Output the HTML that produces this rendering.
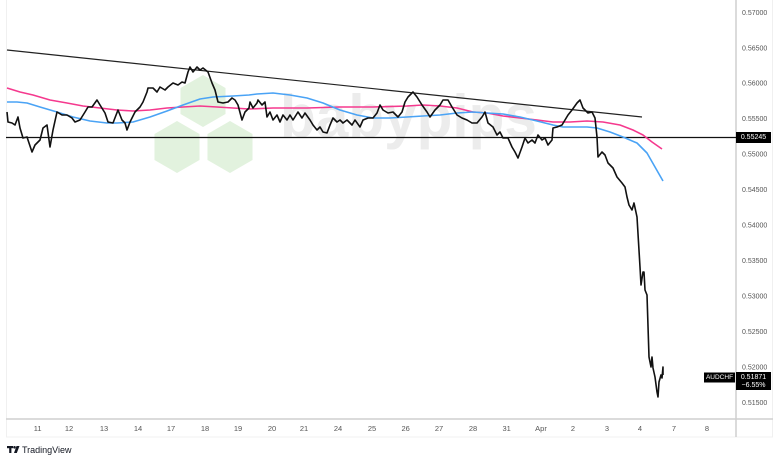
<!DOCTYPE html>
<html><head><meta charset="utf-8"><style>
html,body{margin:0;padding:0;background:#fff;}
svg{display:block;}
text{font-family:"Liberation Sans",sans-serif;}
</style></head><body>
<svg width="780" height="462" viewBox="0 0 780 462" xmlns="http://www.w3.org/2000/svg">
<rect x="0" y="0" width="780" height="462" fill="#fff"/>
<!-- frame -->
<rect x="6.5" y="-1" width="766" height="438" fill="none" stroke="#f0f0f0" stroke-width="1"/>
<!-- watermark -->
<g fill="#e2f2de">
<polygon points="203,75 225.5,88 225.5,114 203,127 180.5,114 180.5,88"/>
<polygon points="177,121 199.5,134 199.5,160 177,173 154.5,160 154.5,134"/>
<polygon points="230,121 252.5,134 252.5,160 230,173 207.5,160 207.5,134"/>
</g>
<text x="280" y="137" font-size="60" font-weight="bold" fill="#ececec" textLength="257" lengthAdjust="spacingAndGlyphs">babypips</text>
<!-- axes separators -->
<line x1="6" y1="419" x2="773" y2="419" stroke="#cfcfcf" stroke-width="1.5"/>
<line x1="736" y1="0" x2="736" y2="437" stroke="#cfcfcf" stroke-width="1.5"/>
<!-- horizontal level -->
<line x1="6" y1="137.5" x2="736" y2="137.5" stroke="#111" stroke-width="1.2"/>
<!-- trendline -->
<line x1="7" y1="50" x2="642" y2="117" stroke="#222" stroke-width="1.2"/>
<!-- pink MA -->
<polyline fill="none" stroke="#f5398e" stroke-width="1.6" stroke-linejoin="round" points="7,88 20,92 33,95 50,100 67,103 83,106 100,108 117,110 133,111 150,110 167,108 183,107 200,106 217,107 233,108 249,109 273,108 307,108 340,107 373,107 407,106 423,105 440,106 457,108 473,112 487,113 503,116 520,118 537,120 553,122 570,122 587,121 603,122 620,125 633,130 643,135 652,142 662,149"/>
<!-- blue MA -->
<polyline fill="none" stroke="#4aa3f5" stroke-width="1.6" stroke-linejoin="round" points="7,102 17,102 27,103 40,107 57,112 73,117 90,121 107,123 117,123 133,122 150,117 167,111 183,105 200,99 213,97 233,96 249,95 257,94 273,93 290,95 307,98 323,103 340,110 357,115 373,118 390,118 407,117 423,116 440,115 457,113 473,112 487,113 503,114 520,117 537,121 553,125 563,127 570,127 587,127 597,128 610,132 623,137 637,143 647,153 655,167 663,181"/>
<!-- price -->
<polyline fill="none" stroke="#111" stroke-width="1.6" stroke-linejoin="round" points="7,112 8,122 12,123 15,125 18,117 20,128 23,138 27,137 32,152 35,145 40,140 43,128 47,125 50,147 53,130 57,112 62,115 67,115 72,118 75,122 80,120 85,112 88,107 92,107 97,100 100,105 105,113 108,122 113,123 118,110 122,120 125,123 127,130 130,122 135,112 140,107 143,102 147,92 148,88 153,88 157,92 160,87 165,90 168,87 173,83 178,85 182,82 185,83 188,72 190,67 193,72 197,67 200,70 203,68 208,72 212,83 215,90 218,102 223,103 228,102 232,98 235,100 238,105 242,120 245,112 249,108 250,102 253,108 257,103 258,100 262,105 265,102 267,117 270,112 273,120 277,115 280,122 283,115 287,120 290,115 293,120 298,112 302,118 305,113 310,120 313,125 317,130 320,127 323,132 327,133 330,125 333,118 337,122 340,120 343,123 347,120 352,125 355,120 360,127 363,120 368,118 373,118 377,113 380,105 383,110 388,113 393,112 398,117 402,112 405,102 408,97 413,92 417,97 422,105 427,112 430,117 435,110 440,105 443,100 448,100 452,107 457,115 462,118 467,120 472,123 477,123 482,117 485,112 488,123 493,127 497,135 500,132 503,138 508,138 512,147 515,152 518,158 522,147 525,138 528,143 532,140 535,143 538,135 542,140 545,138 548,145 552,140 553,128 557,127 562,125 565,120 568,115 572,110 577,103 580,100 583,108 588,113 592,112 595,118 597,137 598,157 602,152 605,155 608,163 613,168 617,177 622,183 625,187 627,197 629,205 632,210 634,203 637,217 640,267 641,285 643,272 644,272 645,290 647,295 649,357 651,367 652,357 653,368 655,377 657,392 658,397 659,382 661,375 662,378 663,367 663,375"/>
<!-- right axis labels -->
<g font-size="7" fill="#555" dominant-baseline="central">
<text x="742" y="13.3">0.57000</text>
<text x="742" y="48.8">0.56500</text>
<text x="742" y="84.2">0.56000</text>
<text x="742" y="119.7">0.55500</text>
<text x="742" y="155.1">0.55000</text>
<text x="742" y="190.6">0.54500</text>
<text x="742" y="226">0.54000</text>
<text x="742" y="261.5">0.53500</text>
<text x="742" y="296.9">0.53000</text>
<text x="742" y="332.4">0.52500</text>
<text x="742" y="367.8">0.52000</text>
<text x="742" y="403.3">0.51500</text>
</g>
<!-- level label -->
<rect x="736" y="132" width="35" height="11" fill="#000"/>
<text x="753.5" y="137.7" font-size="7" fill="#fff" text-anchor="middle" dominant-baseline="central">0.55245</text>
<!-- symbol labels -->
<rect x="704" y="372.5" width="31" height="10" fill="#000"/>
<text x="719.5" y="377.7" font-size="6.5" fill="#fff" text-anchor="middle" dominant-baseline="central">AUDCHF</text>
<rect x="736" y="372" width="35" height="18" fill="#000"/>
<text x="753.5" y="377.5" font-size="7" fill="#fff" text-anchor="middle" dominant-baseline="central">0.51871</text>
<text x="753.5" y="385.5" font-size="7" fill="#fff" text-anchor="middle" dominant-baseline="central">−6.55%</text>
<!-- x axis labels -->
<g font-size="7.5" fill="#555" text-anchor="middle" dominant-baseline="central">
<text x="37.7" y="428.5">11</text>
<text x="69" y="428.5">12</text>
<text x="104" y="428.5">13</text>
<text x="138" y="428.5">14</text>
<text x="171" y="428.5">17</text>
<text x="205" y="428.5">18</text>
<text x="238" y="428.5">19</text>
<text x="272" y="428.5">20</text>
<text x="304" y="428.5">21</text>
<text x="338" y="428.5">24</text>
<text x="372" y="428.5">25</text>
<text x="405.7" y="428.5">26</text>
<text x="439" y="428.5">27</text>
<text x="473" y="428.5">28</text>
<text x="506.7" y="428.5">31</text>
<text x="541" y="428.5">Apr</text>
<text x="573" y="428.5">2</text>
<text x="607" y="428.5">3</text>
<text x="640" y="428.5">4</text>
<text x="674" y="428.5">7</text>
<text x="707" y="428.5">8</text>
</g>
<!-- TradingView logo -->
<g fill="#131722">
<rect x="7" y="446" width="6" height="2.2"/>
<rect x="9.2" y="446" width="2.2" height="7"/>
<circle cx="14.5" cy="447.3" r="1.3"/>
<polygon points="16.5,446 19.5,446 16.8,453 14,453"/>
</g>
<text x="22" y="453" font-size="9" fill="#131722">TradingView</text>
</svg>
</body></html>
